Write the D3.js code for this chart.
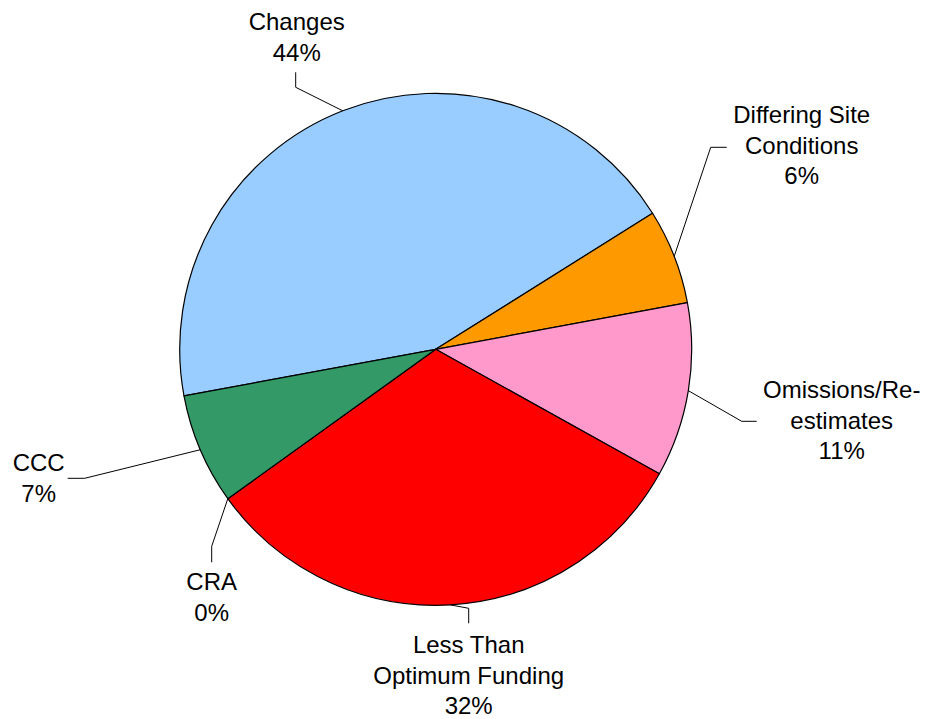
<!DOCTYPE html>
<html>
<head>
<meta charset="utf-8">
<script src="https://cdn.jsdelivr.net/npm/d3@7"></script>
<style>
  html, body { margin: 0; padding: 0; background: #ffffff; }
  svg { display: block; }
  text { font-family: "Liberation Sans", Arial, sans-serif; font-size: 24px; fill: #000; }
</style>
</head>
<body>
<svg id="chart" width="929" height="719"></svg>
<script>
// Share of cost growth by cause (percent)
const categories = ["Changes", "Differing Site Conditions", "Omissions/Re-estimates", "Less Than Optimum Funding", "CRA", "CCC"];
const values = [44, 6, 11, 32, 0, 7];
const labelLines = [
  ["Changes"],
  ["Differing Site", "Conditions"],
  ["Omissions/Re-", "estimates"],
  ["Less Than", "Optimum Funding"],
  ["CRA"],
  ["CCC"]
];
const colors = ["#99CCFF", "#FF9900", "#FF99CC", "#FF0000", "#993366", "#339966"];

// Label placement relative to the pie centre: elbow, leader end, text centre x, first baseline y
const labelLayout = [
  { elbow: [-140, -262], end: [-140, -277], tx: -139, ty: -319 },
  { elbow: [275, -202], end: [291, -202], tx: 366, ty: -226 },
  { elbow: [306, 72], end: [321, 72], tx: 406, ty: 49 },
  { elbow: [33, 259], end: [33, 274], tx: 33, ty: 304 },
  { elbow: [-224, 197], end: [-224, 213], tx: -224, ty: 241 },
  { elbow: [-351, 129], end: [-368, 129], tx: -397, ty: 122 }
];

const cx = 435.7, cy = 349.3, radius = 256;
const lineGap = 30.5;
const startDeg = 259.5;

const svg = d3.select("#chart");
const g = svg.append("g").attr("transform", `translate(${cx},${cy})`);

const pie = d3.pie()
  .sort(null)
  .value(d => d.value)
  .startAngle(startDeg * Math.PI / 180)
  .endAngle((startDeg + 360) * Math.PI / 180);

const data = categories.map((c, i) => ({ name: c, value: values[i], lines: labelLines[i], color: colors[i], layout: labelLayout[i] }));
const arcs = pie(data);

const arc = d3.arc().innerRadius(0).outerRadius(radius);

g.selectAll("path.slice")
  .data(arcs)
  .join("path")
  .attr("class", "slice")
  .attr("d", arc)
  .attr("fill", d => d.data.color)
  .attr("stroke", "#000")
  .attr("stroke-width", 1.2)
  .attr("stroke-linejoin", "round");

// Leader lines from the middle of each slice's rim
const rimPoint = d => {
  const a = (d.startAngle + d.endAngle) / 2;
  return [radius * Math.sin(a), -radius * Math.cos(a)];
};

g.selectAll("polyline.leader")
  .data(arcs)
  .join("polyline")
  .attr("class", "leader")
  .attr("points", d => [rimPoint(d), d.data.layout.elbow, d.data.layout.end].map(p => p.join(",")).join(" "))
  .attr("fill", "none")
  .attr("stroke", "#000")
  .attr("stroke-width", 1);

const fmt = d3.format(".0%");
const total = d3.sum(values);

const labels = g.selectAll("text.label")
  .data(arcs)
  .join("text")
  .attr("class", "label")
  .attr("text-anchor", "middle");

labels.each(function(d) {
  const t = d3.select(this);
  const lines = d.data.lines.concat([fmt(d.data.value / total)]);
  lines.forEach((s, i) => {
    t.append("tspan")
      .attr("x", d.data.layout.tx)
      .attr("y", d.data.layout.ty + i * lineGap)
      .text(s);
  });
});
</script>
</body>
</html>
